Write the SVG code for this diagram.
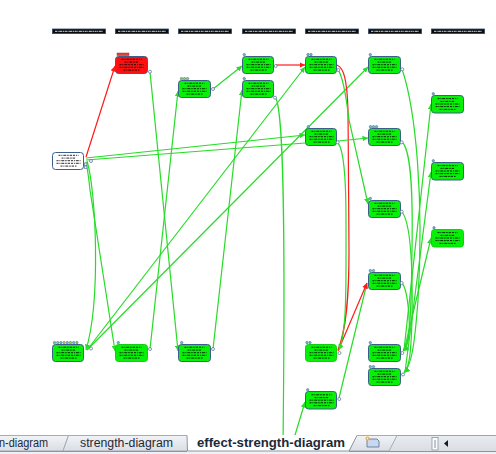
<svg xmlns="http://www.w3.org/2000/svg" xmlns:xlink="http://www.w3.org/1999/xlink" width="496" height="454" viewBox="0 0 496 454">
<style>
.hdr{fill:#0a0a0a;stroke:#2c4a70;stroke-width:0.8}
.hdrt{stroke:#cfd8e6;stroke-width:1;stroke-dasharray:2 .6 1 .6 3 .6 1.5 .6}
.nd{stroke:#3a5f8a;stroke-width:1}
.g{fill:#08f008}
.r{fill:#ff1010}
.w{fill:#ffffff}
.nb{stroke:#10d010}
.rows line{stroke:#050505;stroke-width:0.85;stroke-dasharray:2 .9 1 .9 3 .9 1.5 .9 2.5 .9}
.ic{stroke:#4a6a90;stroke-width:0.6}
.port{fill:#fff;stroke:#4a6a90;stroke-width:0.7}
.e{fill:none;stroke:#26dc26;stroke-width:1.2}
.er{fill:none;stroke:#ff1a1a;stroke-width:1.2}
.tabt{font-family:"Liberation Sans",Arial,sans-serif;font-size:12.5px;fill:#1b2a3a}
</style>
<defs>
<marker id="ag" viewBox="0 0 6 6" refX="6" refY="3" markerWidth="5.5" markerHeight="5.5" orient="auto" markerUnits="userSpaceOnUse"><path d="M0,0 L6,3 L0,6 z" fill="#26dc26"/></marker>
<marker id="ar" viewBox="0 0 6 6" refX="6" refY="3" markerWidth="5.5" markerHeight="5.5" orient="auto" markerUnits="userSpaceOnUse"><path d="M0,0 L6,3 L0,6 z" fill="#ff1a1a"/></marker>
<g id="rows" class="rows">
<line x1="6" y1="2.8" x2="26" y2="2.8"/>
<line x1="9" y1="5.6" x2="23" y2="5.6"/>
<line x1="4" y1="8.2" x2="28" y2="8.2"/>
<line x1="4" y1="10.8" x2="28" y2="10.8"/>
<line x1="8" y1="13.6" x2="24" y2="13.6"/>
</g>
<linearGradient id="tabg" x1="0" y1="0" x2="0" y2="1"><stop offset="0" stop-color="#f1f3f6"/><stop offset="1" stop-color="#dadee4"/></linearGradient>
<linearGradient id="barg" x1="0" y1="0" x2="0" y2="1"><stop offset="0" stop-color="#e9ecf0"/><stop offset="1" stop-color="#d6dbe1"/></linearGradient>
</defs>
<rect width="496" height="454" fill="#ffffff"/>

<g id="headers">
<rect class="hdr" x="52.5" y="29" width="53" height="4.6"/><line class="hdrt" x1="55" y1="31.3" x2="103" y2="31.3"/>
<rect class="hdr" x="115.5" y="29" width="53" height="4.6"/><line class="hdrt" x1="118" y1="31.3" x2="166" y2="31.3"/>
<rect class="hdr" x="178.5" y="29" width="53" height="4.6"/><line class="hdrt" x1="181" y1="31.3" x2="229" y2="31.3"/>
<rect class="hdr" x="242.5" y="29" width="53" height="4.6"/><line class="hdrt" x1="245" y1="31.3" x2="293" y2="31.3"/>
<rect class="hdr" x="305.5" y="29" width="53" height="4.6"/><line class="hdrt" x1="308" y1="31.3" x2="356" y2="31.3"/>
<rect class="hdr" x="368.5" y="29" width="53" height="4.6"/><line class="hdrt" x1="371" y1="31.3" x2="419" y2="31.3"/>
<rect class="hdr" x="431.5" y="29" width="53" height="4.6"/><line class="hdrt" x1="434" y1="31.3" x2="482" y2="31.3"/>
</g>

<g id="connectors">
<path class="er" d="M86,157 L115,66" marker-end="url(#ar)"/>
<path class="e" d="M86,158 L305,135" marker-end="url(#ag)"/>
<path class="e" d="M86,160 L305,143"/>
<path class="e" d="M87,161 C96,190 101,300 86,350" marker-end="url(#ag)"/>
<path class="e" d="M86,162 C88,172 89,180 90,190 L115,351" marker-end="url(#ag)"/>
<path class="e" d="M150,72 L178,351" marker-end="url(#ag)"/>
<path class="e" d="M150,349 L178,91" marker-end="url(#ag)"/>
<path class="e" d="M213,349 L242,90" marker-end="url(#ag)"/>
<path class="e" d="M213,89 L242,66" marker-end="url(#ag)"/>
<path class="e" d="M87,350 L305,67" marker-end="url(#ag)"/>
<path class="e" d="M87,350 L368,67" marker-end="url(#ag)"/>
<path class="er" d="M276,65 L305,65" marker-end="url(#ar)"/>
<path class="e" d="M275,97 C282,104 286,180 283,445"/>
<path class="e" d="M292,445 L305,402" marker-end="url(#ag)"/>
<path class="e" d="M339,398 L367,283" marker-end="url(#ag)"/>
<path class="er" d="M338,351 L367,283" marker-end="url(#ar)"/>
<path class="er" d="M337,65 C344,68 347,80 348,110 L349,250 C349,300 346,330 338,350"/>
<path class="e" d="M338,143 C344,150 346,180 346,220 L346,260 C346,310 345,335 339,350" marker-end="url(#ag)"/>
<path class="e" d="M338,70 C343,76 346,95 349,120 L368,204" marker-end="url(#ag)"/>
<path class="e" d="M338,141 L368,138" marker-end="url(#ag)"/>
<path class="e" d="M402,69 C416,110 424,200 418,300 C415,340 412,366 404,372" marker-end="url(#ag)"/>
<path class="e" d="M402,142 C411,150 413,190 412,250 C411,320 410,345 403,350" marker-end="url(#ag)"/>
<path class="e" d="M402,212 C410,222 413,260 412,320 C411,355 409,368 404,373" marker-end="url(#ag)"/>
<path class="e" d="M402,283 C408,290 410,320 409,335 C408,345 406,349 403,351" marker-end="url(#ag)"/>
<path class="e" d="M404,350 L431,104" marker-end="url(#ag)"/>
<path class="e" d="M405,372 L431,172" marker-end="url(#ag)"/>
<path class="e" d="M404,351 L431,238" marker-end="url(#ag)"/>
</g>

<g id="n1"><rect class="nd w" x="52.5" y="152.5" width="31" height="17" rx="3"/><use href="#rows" x="52.5" y="152.5"/><circle class="port" cx="91" cy="161" r="1.5"/><rect class="ic" x="84.5" y="163" width="2.4" height="2.4" fill="#dfe"/><rect class="ic" x="84.5" y="166" width="2.4" height="2.4" fill="#dfe"/></g>
<g id="n2"><rect class="nd g" x="52.5" y="344.5" width="31" height="17" rx="3"/><use href="#rows" x="52.5" y="344.5"/><circle class="port" cx="91" cy="348.5" r="1.5"/>
<circle class="ic" cx="54.5" cy="342.6" r="1.2" fill="#7bc"/><circle class="ic" cx="57.7" cy="342.6" r="1.2" fill="#9c6"/><circle class="ic" cx="60.9" cy="342.6" r="1.2" fill="#7bc"/><circle class="ic" cx="64.1" cy="342.6" r="1.2" fill="#ec6"/><circle class="ic" cx="67.3" cy="342.6" r="1.2" fill="#7bc"/><circle class="ic" cx="70.5" cy="342.6" r="1.2" fill="#9c6"/><circle class="ic" cx="73.7" cy="342.6" r="1.2" fill="#7bc"/><circle class="ic" cx="76.9" cy="342.6" r="1.2" fill="#9c6"/></g>
<g id="n3"><rect class="nd r" x="115.5" y="56.5" width="32" height="17" rx="3"/><use href="#rows" x="115.5" y="56.5"/><circle class="port" cx="150" cy="71.7" r="1.5"/>
<rect x="117" y="53" width="12" height="2.6" fill="#e04030" stroke="#a33" stroke-width="0.5"/></g>
<g id="n4"><rect class="nd g nb" x="115.5" y="344.5" width="32" height="17" rx="3"/><use href="#rows" x="115.5" y="344.5"/><circle class="port" cx="150" cy="349" r="1.5"/><circle class="ic" cx="118.3" cy="342.6" r="1.2" fill="#7bc"/></g>
<g id="n5"><rect class="nd g" x="178.5" y="80.5" width="32" height="17" rx="3"/><use href="#rows" x="178.5" y="80.5"/><circle class="port" cx="213" cy="89" r="1.5"/><circle class="ic" cx="181.5" cy="78.6" r="1.2" fill="#9c6"/><circle class="ic" cx="184.5" cy="78.6" r="1.2" fill="#9c6"/><circle class="ic" cx="187.5" cy="78.6" r="1.2" fill="#9c6"/></g>
<g id="n6"><rect class="nd g" x="178.5" y="344.5" width="32" height="17" rx="3"/><use href="#rows" x="178.5" y="344.5"/><circle class="port" cx="213" cy="349" r="1.5"/><circle class="ic" cx="181.7" cy="342.6" r="1.2" fill="#7bc"/></g>
<g id="n7"><rect class="nd g" x="242.5" y="56.5" width="31" height="17" rx="3"/><use href="#rows" x="242.5" y="56.5"/><circle class="port" cx="275.7" cy="66" r="1.5"/><circle class="ic" cx="244.3" cy="54.6" r="1.2" fill="#7bc"/></g>
<g id="n8"><rect class="nd g" x="242.5" y="80.5" width="31" height="17" rx="3"/><use href="#rows" x="242.5" y="80.5"/><circle class="port" cx="275" cy="97.7" r="1.5"/><circle class="ic" cx="244.3" cy="78.6" r="1.2" fill="#7bc"/></g>
<g id="n9"><rect class="nd g" x="305.5" y="56.5" width="31" height="17" rx="3"/><use href="#rows" x="305.5" y="56.5"/><circle class="port" cx="338.3" cy="70" r="1.5"/><circle class="ic" cx="308" cy="54.6" r="1.2" fill="#7bc"/><circle class="ic" cx="311" cy="54.6" r="1.2" fill="#7bc"/></g>
<g id="n10"><rect class="nd g" x="305.5" y="128.5" width="31" height="17" rx="3"/><use href="#rows" x="305.5" y="128.5"/><circle class="port" cx="337.7" cy="142.3" r="1.5"/><circle class="ic" cx="308.3" cy="126.7" r="1.2" fill="#7bc"/></g>
<g id="n11"><rect class="nd g nb" x="305.5" y="344.5" width="31" height="17" rx="3"/><use href="#rows" x="305.5" y="344.5"/><circle class="port" cx="339.5" cy="353" r="1.5"/><circle class="ic" cx="307" cy="342.6" r="1.2" fill="#7bc"/><circle class="ic" cx="310" cy="342.6" r="1.2" fill="#7bc"/></g>
<g id="n12"><rect class="nd g" x="305.5" y="391.5" width="31" height="17.5" rx="3"/><use href="#rows" x="305.5" y="392"/><circle class="port" cx="339.3" cy="399" r="1.5"/><circle class="ic" cx="307.7" cy="389.8" r="1.2" fill="#7bc"/></g>
<g id="n13"><rect class="nd g" x="368.5" y="56.5" width="32" height="17" rx="3"/><use href="#rows" x="368.5" y="56.5"/><circle class="port" cx="402.3" cy="69.3" r="1.5"/><circle class="ic" cx="370.3" cy="54.6" r="1.2" fill="#7bc"/></g>
<g id="n14"><rect class="nd g" x="368.5" y="128.5" width="32" height="17" rx="3"/><use href="#rows" x="368.5" y="128.5"/><circle class="port" cx="401.7" cy="142.3" r="1.5"/><circle class="ic" cx="370.5" cy="126.7" r="1.2" fill="#7bc"/><circle class="ic" cx="373.5" cy="126.7" r="1.2" fill="#7bc"/><circle class="ic" cx="376.5" cy="126.7" r="1.2" fill="#7bc"/></g>
<g id="n15"><rect class="nd g" x="368.5" y="200.5" width="32" height="17" rx="3"/><use href="#rows" x="368.5" y="200.5"/><circle class="port" cx="401.7" cy="211.7" r="1.5"/><circle class="ic" cx="370.3" cy="198.5" r="1.2" fill="#7bc"/></g>
<g id="n16"><rect class="nd g" x="368.5" y="272.5" width="32" height="17" rx="3"/><use href="#rows" x="368.5" y="272.5"/><circle class="port" cx="401.7" cy="283" r="1.5"/><circle class="ic" cx="370.3" cy="270.6" r="1.2" fill="#7bc"/><circle class="ic" cx="373.5" cy="270.6" r="1.2" fill="#7bc"/></g>
<g id="n17"><rect class="nd g" x="368.5" y="344.5" width="32" height="17" rx="3"/><use href="#rows" x="368.5" y="344.5"/><circle class="port" cx="402.3" cy="353" r="1.5"/><circle class="ic" cx="370.3" cy="342.6" r="1.2" fill="#7bc"/></g>
<g id="n18"><rect class="nd g" x="368.5" y="368.5" width="32" height="17" rx="3"/><use href="#rows" x="368.5" y="368.5"/><circle class="port" cx="403" cy="374.5" r="1.5"/><circle class="ic" cx="370.3" cy="366.6" r="1.2" fill="#7bc"/><circle class="ic" cx="373.5" cy="366.6" r="1.2" fill="#7bc"/></g>
<g id="n19"><rect class="nd g" x="431.5" y="95.5" width="32" height="17.5" rx="3"/><use href="#rows" x="431.5" y="95.8"/><circle class="ic" cx="433.3" cy="93.8" r="1.2" fill="#7bc"/></g>
<g id="n20"><rect class="nd g" x="431.5" y="162.5" width="32" height="17.5" rx="3"/><use href="#rows" x="431.5" y="162.8"/><circle class="ic" cx="433.3" cy="160.8" r="1.2" fill="#7bc"/></g>
<g id="n21"><rect class="nd g nb" x="431.5" y="229.5" width="32" height="17.5" rx="3"/><use href="#rows" x="431.5" y="229.8"/><circle class="ic" cx="434" cy="227.8" r="1.2" fill="#7bc"/></g>

<g id="tabbar">
<rect x="0" y="435" width="496" height="19" fill="url(#barg)"/>
<rect x="0" y="451" width="496" height="3" fill="#eef0f3"/>
<line x1="0" y1="435.5" x2="496" y2="435.5" stroke="#9aa4b0" stroke-width="1"/>
<path d="M-2,435.5 L68.5,435.5 L63,451 L-2,451 z" fill="url(#tabg)" stroke="#a3acb7" stroke-width="1"/>
<path d="M68.5,435.5 L192,435.5 L187,451 L63,451 z" fill="url(#tabg)" stroke="#a3acb7" stroke-width="1"/>
<path d="M356,435.5 L397,435.5 L389,451 L349,451 z" fill="url(#tabg)" stroke="#a3acb7" stroke-width="1"/>
<path d="M187,435 L357,435 L349,451 L187.5,451 z" fill="#ffffff"/>
<path d="M187,435.5 L187.5,451 L349,451 L357,435.5" fill="none" stroke="#8a96a3" stroke-width="1"/>
<line x1="0" y1="451.5" x2="187" y2="451.5" stroke="#8a96a3" stroke-width="1"/>
<line x1="349" y1="451.5" x2="496" y2="451.5" stroke="#8a96a3" stroke-width="1"/>
<text class="tabt" x="-1" y="446.5" textLength="49" lengthAdjust="spacingAndGlyphs">n-diagram</text>
<text class="tabt" x="80" y="446.5" textLength="93" lengthAdjust="spacingAndGlyphs">strength-diagram</text>
<text class="tabt" x="197" y="446.5" font-weight="bold" textLength="148" lengthAdjust="spacingAndGlyphs">effect-strength-diagram</text>
<g id="newsheet">
<path d="M367,439 L377,439 L379,441 L379,447 L367,447 z" fill="#c9d8ee" stroke="#56708f" stroke-width="0.8"/>
<circle cx="367.5" cy="438.5" r="2" fill="#f5a623"/>
<circle cx="367.5" cy="438.5" r="0.9" fill="#fff2c0"/>
</g>
<rect x="432" y="437.5" width="6" height="12.5" fill="#fbfcfd" stroke="#8a96a3" stroke-width="0.8"/>
<line x1="435" y1="440" x2="435" y2="448" stroke="#6a7480" stroke-width="0.8"/>
<path d="M448,440 L448,447 L444,443.5 z" fill="#1a1a1a"/>
</g>
</svg>
